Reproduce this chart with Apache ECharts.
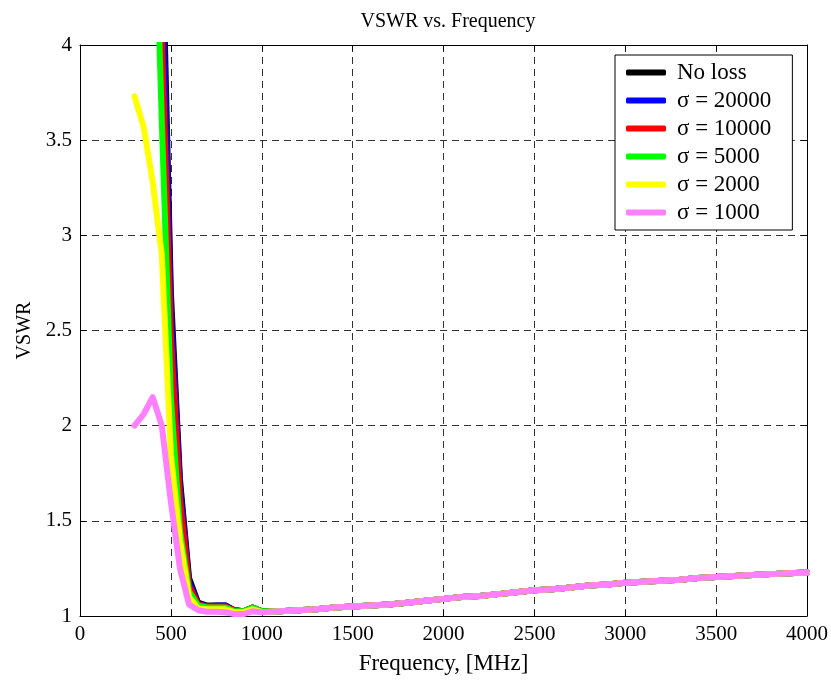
<!DOCTYPE html>
<html>
<head>
<meta charset="utf-8">
<script src="https://cdn.jsdelivr.net/npm/echarts@6/dist/echarts.min.js"></script>
<style>
html,body{margin:0;padding:0;background:#fff;}
#chart{width:831px;height:681px;}
</style>
</head>
<body>
<div id="chart"></div>
<script>
// ---- data ----
const freqLow = [300, 350, 400, 450, 500, 550, 600, 650, 700, 750, 800, 850, 900, 950, 1000];
const noLoss     = [8.5, 7.2, 6.1, 4.7, 2.7, 1.72, 1.2, 1.07, 1.055, 1.055, 1.055, 1.03, 1.025, 1.045, 1.025];
const sigma20000 = [8.0, 6.9, 5.8, 4.45, 2.62, 1.68, 1.18, 1.065, 1.05, 1.055, 1.055, 1.03, 1.025, 1.045, 1.025];
const sigma10000 = [7.4, 6.5, 5.5, 4.05, 2.48, 1.62, 1.16, 1.06, 1.05, 1.05, 1.05, 1.03, 1.025, 1.045, 1.025];
const sigma5000  = [6.5, 6.0, 5.2, 3.6, 2.15, 1.45, 1.13, 1.055, 1.045, 1.045, 1.045, 1.025, 1.025, 1.045, 1.025];
const sigma2000  = [3.73, 3.57, 3.28, 2.9, 1.85, 1.4, 1.1, 1.04, 1.035, 1.035, 1.035, 1.02, 1.02, 1.035, 1.02];
const sigma1000  = [2.0, 2.06, 2.15, 2.0, 1.6, 1.25, 1.06, 1.03, 1.022, 1.022, 1.02, 1.01, 1.01, 1.025, 1.02];

const freqTail = [1100, 1200, 1300, 1400, 1500, 1600, 1700, 1800, 1900, 2000,
                  2100, 2200, 2300, 2400, 2500, 2600, 2700, 2800, 2900, 3000,
                  3100, 3200, 3300, 3400, 3500, 3600, 3700, 3800, 3900, 4000];
const tailVSWR = [1.025, 1.03, 1.035, 1.045, 1.05, 1.055, 1.06, 1.07, 1.08, 1.09,
                  1.10, 1.105, 1.115, 1.125, 1.135, 1.14, 1.15, 1.16, 1.165, 1.175,
                  1.18, 1.185, 1.19, 1.2, 1.205, 1.21, 1.215, 1.22, 1.225, 1.228];

const seriesNames = ['No loss', 'σ = 20000', 'σ = 10000', 'σ = 5000', 'σ = 2000', 'σ = 1000'];
const seriesValues = [noLoss, sigma20000, sigma10000, sigma5000, sigma2000, sigma1000];
const seriesColors = ['#000000', '#0000ff', '#ff0000', '#00ff00', '#ffff00', '#ff80ff'];

const xTicks = {min: 0, max: 4000, interval: 500};
const yTicks = {min: 1, max: 4, interval: 0.5};

// ---- build ----
function buildData(low) {
  const d = [];
  for (let i = 0; i < freqLow.length; i++) d.push([freqLow[i], low[i]]);
  for (let i = 0; i < freqTail.length; i++) d.push([freqTail[i], tailVSWR[i]]);
  return d;
}

const FONT = 'Liberation Serif';
const gridLine = {show: true, lineStyle: {color: '#333', type: [7, 5], width: 1}};

const chart = echarts.init(document.getElementById('chart'), null, {renderer: 'canvas'});
chart.setOption({
  animation: false,
  backgroundColor: '#ffffff',
  title: {
    text: 'VSWR vs. Frequency', left: 443, textAlign: 'center', top: 7,
    textStyle: {fontFamily: FONT, fontSize: 20, fontWeight: 'normal', color: '#000'}
  },
  grid: {left: 80, right: 24, top: 45, bottom: 65, containLabel: false},
  legend: {
    orient: 'vertical', left: 615, top: 55,
    data: seriesNames,
    icon: 'roundRect', itemWidth: 40, itemHeight: 6, itemGap: 5,
    padding: [6, 21, 6, 11],
    backgroundColor: '#fff', borderColor: '#000', borderWidth: 1,
    textStyle: {fontFamily: FONT, fontSize: 23, color: '#000', lineHeight: 23, padding: [0, 0, 0, 6]}
  },
  xAxis: [{
    type: 'value', min: xTicks.min, max: xTicks.max, interval: xTicks.interval,
    name: 'Frequency, [MHz]', nameLocation: 'middle', nameGap: 36,
    nameTextStyle: {fontFamily: FONT, fontSize: 23, color: '#000'},
    axisLine: {show: true, onZero: false, lineStyle: {color: '#000', width: 1}},
    axisTick: {show: true, inside: true, length: 6, lineStyle: {color: '#000'}},
    axisLabel: {fontFamily: FONT, fontSize: 21, color: '#000', margin: 8, formatter: v => String(v)},
    splitLine: gridLine
  }, {
    type: 'value', position: 'top', min: xTicks.min, max: xTicks.max, interval: xTicks.interval,
    axisLine: {show: true, onZero: false, lineStyle: {color: '#000', width: 1}},
    axisTick: {show: true, inside: true, length: 6, lineStyle: {color: '#000'}},
    axisLabel: {show: false}, splitLine: {show: false}
  }],
  yAxis: [{
    type: 'value', min: yTicks.min, max: yTicks.max, interval: yTicks.interval,
    name: 'VSWR', nameLocation: 'middle', nameGap: 45, nameRotate: 90,
    nameTextStyle: {fontFamily: FONT, fontSize: 20, color: '#000'},
    axisLine: {show: true, onZero: false, lineStyle: {color: '#000', width: 1}},
    axisTick: {show: true, inside: true, length: 6, lineStyle: {color: '#000'}},
    axisLabel: {fontFamily: FONT, fontSize: 21, color: '#000', margin: 8, formatter: v => String(v)},
    splitLine: gridLine
  }, {
    type: 'value', position: 'right', min: yTicks.min, max: yTicks.max, interval: yTicks.interval,
    axisLine: {show: true, onZero: false, lineStyle: {color: '#000', width: 1}},
    axisTick: {show: true, inside: true, length: 6, lineStyle: {color: '#000'}},
    axisLabel: {show: false}, splitLine: {show: false}
  }],
  series: seriesNames.map((n, i) => ({
    name: n, type: 'line', xAxisIndex: 0, yAxisIndex: 0,
    data: buildData(seriesValues[i]),
    symbol: 'none', showSymbol: false, clip: true,
    color: seriesColors[i],
    lineStyle: {color: seriesColors[i], width: 6, cap: 'round', join: 'round'},
    emphasis: {disabled: true}
  }))
});
</script>
</body>
</html>
